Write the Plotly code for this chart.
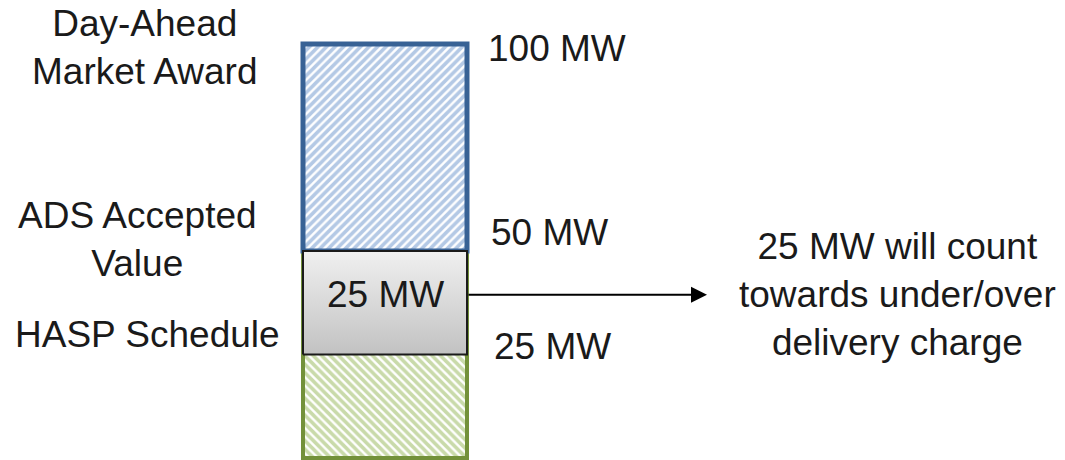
import plotly.graph_objects as go

# ---- data ----
da_award_mw = 100          # Day-Ahead Market Award
ads_accepted_mw = 50       # ADS Accepted Value
hasp_schedule_mw = 25      # HASP Schedule

left_labels = ["Day-Ahead<br>Market Award", "ADS Accepted<br>Value", "HASP Schedule"]
left_levels = [da_award_mw, ads_accepted_mw, hasp_schedule_mw]
right_labels = ["100 MW", "50 MW", "25 MW"]
box_label = "25 MW"
note_text = "25 MW will count<br>towards under/over<br>delivery charge"

# ---- style / geometry ----
FONT = "Liberation Sans, Arial, sans-serif"
FS = 37
TXT = "#1a1a1a"
W, H = 1065, 460
PX_PER_MW = 4.14
ZERO_PX = 458
BAR_X = 0
BAR_W = 1
BAR_CENTER_PX = 385
BAR_W_PX = 164
X_RANGE = [-BAR_CENTER_PX / BAR_W_PX, (W - BAR_CENTER_PX) / BAR_W_PX]
Y_RANGE = [-(H - ZERO_PX) / PX_PER_MW, ZERO_PX / PX_PER_MW]
NOTE_TIP = (707 - BAR_CENTER_PX) / BAR_W_PX


def px_x(p):
    return p / W


fig = go.Figure()

# green bar (0 -> ADS accepted)
fig.add_trace(go.Bar(
    x=[BAR_X], y=[ads_accepted_mw], base=[0], width=BAR_W,
    marker=dict(color="white",
                line=dict(color="#73913a", width=4),
                pattern=dict(shape="\\", fgcolor="#94b655", bgcolor="white",
                             size=6, solidity=0.6)),
    hoverinfo="skip"))

# blue bar (ADS accepted -> DA award)
fig.add_trace(go.Bar(
    x=[BAR_X], y=[da_award_mw - ads_accepted_mw], base=[ads_accepted_mw], width=BAR_W,
    marker=dict(color="white",
                line=dict(color="#386295", width=5),
                pattern=dict(shape="/", fgcolor="#6a94cc", bgcolor="white",
                             size=6, solidity=0.6)),
    hoverinfo="skip"))

# gray 25 MW box (HASP -> ADS accepted), vertical gradient
x0, x1 = BAR_X - BAR_W / 2, BAR_X + BAR_W / 2
fig.add_trace(go.Scatter(
    x=[x0, x1, x1, x0, x0],
    y=[hasp_schedule_mw, hasp_schedule_mw, ads_accepted_mw, ads_accepted_mw, hasp_schedule_mw],
    mode="lines", fill="toself",
    line=dict(color="#1a1a1a", width=2),
    fillgradient=dict(type="vertical",
                      colorscale=[[0, "#c2c2c2"], [1, "#f0f0f0"]]),
    hoverinfo="skip"))

annotations = []
mid = (hasp_schedule_mw + ads_accepted_mw) / 2
# box label
annotations.append(dict(x=BAR_X, y=mid, text=box_label,
                        showarrow=False, font=dict(size=FS, color=TXT, family=FONT),
                        xanchor="center", yanchor="middle", yshift=8))
# left labels
left_x = [px_x(145), px_x(137), px_x(147)]
left_shifts = [-3, 12, 20]
for txt, lv, xx, ys in zip(left_labels, left_levels, left_x, left_shifts):
    annotations.append(dict(x=xx, xref="paper", y=lv, yref="y", text=txt,
                            showarrow=False, font=dict(size=FS, color=TXT, family=FONT),
                            xanchor="center", yanchor="middle", yshift=ys))
# right labels
right_x = [px_x(486), px_x(489), px_x(492)]
right_shifts = [-4, 19, 8]
for txt, lv, xx, ys in zip(right_labels, left_levels, right_x, right_shifts):
    annotations.append(dict(x=xx, xref="paper", y=lv, yref="y", text=txt,
                            showarrow=False, font=dict(size=FS, color=TXT, family=FONT),
                            xanchor="left", yanchor="middle", yshift=ys))
# arrow
annotations.append(dict(x=NOTE_TIP, y=mid, ax=BAR_X + BAR_W / 2, ay=mid,
                        xref="x", yref="y", axref="x", ayref="y",
                        showarrow=True, arrowhead=2, arrowsize=1.6, arrowwidth=2,
                        arrowcolor="#000000", text="", yshift=8))
# note text
annotations.append(dict(x=px_x(897), xref="paper", y=mid, yref="y", text=note_text,
                        showarrow=False, font=dict(size=FS, color=TXT, family=FONT),
                        xanchor="center", yanchor="middle", yshift=8, align="center"))

fig.update_layout(
    width=W, height=H,
    margin=dict(l=0, r=0, t=0, b=0),
    paper_bgcolor="white", plot_bgcolor="white",
    showlegend=False, barmode="overlay",
    hovermode=False,
    xaxis=dict(range=X_RANGE, visible=False, fixedrange=True),
    yaxis=dict(range=Y_RANGE, visible=False, fixedrange=True),
    annotations=annotations,
)

fig.write_html("out.html",
               config={"displayModeBar": False, "staticPlot": True},
               post_script="document.body.style.margin='0';document.body.style.overflow='hidden';")
